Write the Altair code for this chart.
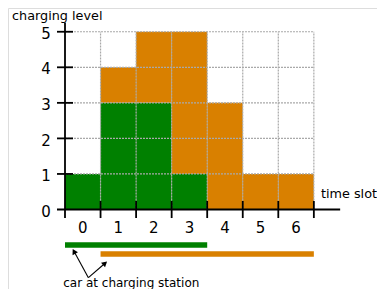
import math
import altair as alt
import pandas as pd

# ---------------- data ----------------
slots = [0, 1, 2, 3, 4, 5, 6]
green_level = [1, 3, 3, 1, 0, 0, 0]
orange_level = [0, 1, 2, 4, 3, 1, 1]
level_ticks = [0, 1, 2, 3, 4, 5]
slot_labels = ["0", "1", "2", "3", "4", "5", "6"]
car_names = ["green", "orange"]
car_start = [0, 1]
car_end = [4, 7]
car_row = [-1.0, -1.25]

# ---------------- style / layout ----------------
GREEN = "#008000"
ORANGE = "#d98000"
GRID = "#a9a9a9"
FONT = "DejaVu Sans"
U = 35.55                      # pixels per data unit
W, H = 369, 281                # view size (whole page minus margins)
OX, OY = 65 - 8, 209.5 - 8     # origin inside the view, px
xdom = [-OX / U, (W - OX) / U]
ydom = [(OY - H) / U, OY / U]
xs = alt.Scale(domain=xdom, nice=False, zero=False)
ys = alt.Scale(domain=ydom, nice=False, zero=False)
n = len(slots)
top = max(level_ticks)


def X(f):
    return alt.X(f"{f}:Q", scale=xs, axis=None)


def Y(f):
    return alt.Y(f"{f}:Q", scale=ys, axis=None)


color_scale = alt.Scale(domain=car_names, range=[GREEN, ORANGE])

# bars
rows = []
for s, g, o in zip(slots, green_level, orange_level):
    if g > 0:
        rows.append(dict(x=s, x2=s + 1, y=0, y2=g, car="green"))
    if o > 0:
        rows.append(dict(x=s, x2=s + 1, y=g, y2=g + o, car="orange"))
bars_df = pd.DataFrame(rows)
bars = alt.Chart(bars_df).mark_rect().encode(
    x=X("x"), x2="x2", y=Y("y"), y2="y2",
    color=alt.Color("car:N", scale=color_scale, legend=None),
)

# grid (on top of bars)
vgrid = alt.Chart(pd.DataFrame({"x": [s + 1 for s in slots], "y": 0, "y2": top})).mark_rule(
    color=GRID, strokeWidth=1.2, strokeDash=[2, 1]
).encode(x=X("x"), y=Y("y"), y2="y2")
hgrid = alt.Chart(pd.DataFrame({"y": level_ticks[1:], "x": 0, "x2": n})).mark_rule(
    color=GRID, strokeWidth=1.2, strokeDash=[2, 1]
).encode(y=Y("y"), x=X("x"), x2="x2")

# axis lines
ax_df = pd.DataFrame({
    "x": [-0.225, 0.0], "x2": [n + 0.74, 0.0],
    "y": [0.0, -0.24], "y2": [0.0, top + 0.25],
})
axes = alt.Chart(ax_df).mark_rule(color="black", strokeWidth=1.8).encode(
    x=X("x"), x2="x2", y=Y("y"), y2="y2")

# ticks
xt = pd.DataFrame({"x": [s + 1 for s in slots], "y": -0.24, "y2": 0.24})
xticks = alt.Chart(xt).mark_rule(color="black", strokeWidth=1.8).encode(
    x=X("x"), y=Y("y"), y2="y2")
yt = pd.DataFrame({"y": level_ticks[1:], "x": -0.225, "x2": 0.225})
yticks = alt.Chart(yt).mark_rule(color="black", strokeWidth=1.8).encode(
    y=Y("y"), x=X("x"), x2="x2")

# tick labels
ylab = alt.Chart(pd.DataFrame({"y": [v - 0.2 for v in level_ticks], "x": -0.40,
                               "t": [str(v) for v in level_ticks]})).mark_text(
    align="right", baseline="alphabetic", font=FONT, fontSize=15, color="black"
).encode(x=X("x"), y=Y("y"), text="t:N")
xlab = alt.Chart(pd.DataFrame({"x": [s + 0.5 for s in slots], "y": -0.65,
                               "t": slot_labels})).mark_text(
    align="center", baseline="alphabetic", font=FONT, fontSize=15, color="black"
).encode(x=X("x"), y=Y("y"), text="t:N")

# car presence bars
cars = alt.Chart(pd.DataFrame({"car": car_names, "x": car_start, "x2": car_end,
                               "y": car_row})).mark_rule(strokeWidth=5.5, strokeCap="butt").encode(
    x=X("x"), x2="x2", y=Y("y"),
    color=alt.Color("car:N", scale=color_scale, legend=None))

# arrows
origin = (0.658, -1.918)
tips = [(0.205, -1.091), (1.201, -1.448)]
shaft_rows, head_rows = [], []
for tx, ty in tips:
    dxp = (tx - origin[0]) * U
    dyp = (ty - origin[1]) * U
    L = math.hypot(dxp, dyp)
    ux, uy = dxp / L, dyp / L
    ang = math.degrees(math.atan2(ux, uy)) % 360
    back = 3.5 / U
    shaft_rows.append(dict(x=origin[0], y=origin[1], x2=tx - ux * back, y2=ty - uy * back))
    head_rows.append(dict(x=tx - ux * back, y=ty - uy * back, a=ang))
shafts = alt.Chart(pd.DataFrame(shaft_rows)).mark_rule(color="black", strokeWidth=1.1).encode(
    x=X("x"), y=Y("y"), x2="x2", y2="y2")
heads = alt.Chart(pd.DataFrame(head_rows)).mark_point(
    shape="triangle-up", filled=True, color="black", size=38, opacity=1
).encode(x=X("x"), y=Y("y"), angle=alt.Angle("a:Q", scale=None))

# texts
texts = alt.Chart(pd.DataFrame({
    "x": [-1.49, 7.2, -0.05],
    "y": [5.33, 0.32, -2.17],
    "t": ["charging level", "time slot", "car at charging station"],
    "s": [12.8, 12.8, 12],
})).mark_text(align="left", baseline="alphabetic", font=FONT, color="black").encode(
    x=X("x"), y=Y("y"), text="t:N", size=alt.Size("s:Q", scale=None, legend=None))

chart = alt.layer(
    bars, vgrid, hgrid, cars, axes, xticks, yticks, ylab, xlab, shafts, heads, texts
).properties(
    width=W, height=H, autosize=alt.AutoSizeParams(type="none"), padding=0
).configure_view(stroke=None).configure(background="white")

chart.save("out.html", embed_options={"renderer": "svg", "actions": False})
